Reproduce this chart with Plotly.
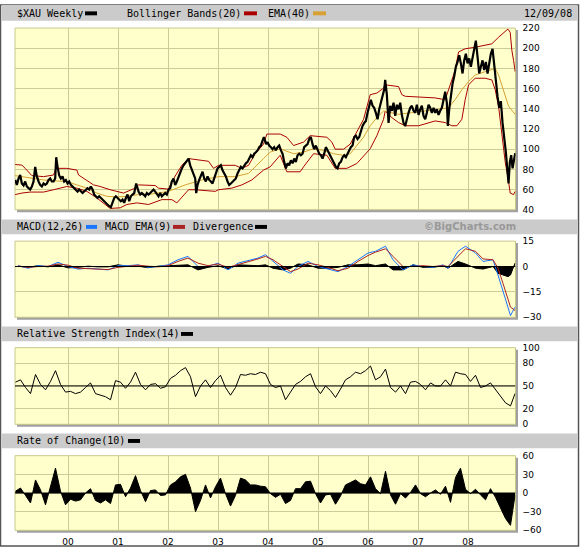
import plotly.graph_objects as go

W, H = 581, 553

# ---------------- data ----------------
price_year = [1998.944,1998.977,1999.011,1999.044,1999.077,1999.111,1999.144,1999.177,1999.211,1999.244,
 1999.277,1999.311,1999.344,1999.377,1999.411,1999.444,1999.477,1999.511,1999.544,1999.577,1999.611,1999.644,
 1999.677,1999.711,1999.744,1999.764,1999.791,1999.824,1999.857,1999.891,1999.924,1999.957,1999.991,2000.024,
 2000.057,2000.091,2000.124,2000.157,2000.191,2000.224,2000.257,2000.291,2000.324,2000.357,2000.391,2000.424,
 2000.457,2000.491,2000.524,2000.557,2000.591,2000.624,2000.657,2000.691,2000.724,2000.757,2000.791,2000.824,
 2000.857,2000.891,2000.924,2000.957,2000.991,2001.017,2001.057,2001.091,2001.124,2001.157,2001.191,2001.224,
 2001.257,2001.291,2001.324,2001.364,2001.377,2001.411,2001.444,2001.477,2001.511,2001.544,2001.577,2001.611,
 2001.644,2001.677,2001.711,2001.744,2001.777,2001.811,2001.844,2001.877,2001.911,2001.944,2001.977,2002.011,
 2002.044,2002.077,2002.111,2002.144,2002.177,2002.211,2002.244,2002.277,2002.311,2002.344,2002.377,2002.411,
 2002.444,2002.477,2002.511,2002.544,2002.564,2002.591,2002.624,2002.657,2002.691,2002.724,2002.757,2002.791,
 2002.824,2002.857,2002.891,2002.924,2002.957,2002.991,2003.024,2003.057,2003.091,2003.124,2003.157,2003.191,
 2003.224,2003.257,2003.291,2003.324,2003.357,2003.391,2003.424,2003.457,2003.491,2003.524,2003.557,2003.591,
 2003.624,2003.657,2003.691,2003.724,2003.757,2003.791,2003.824,2003.857,2003.891,2003.917,2003.931,2003.964,
 2003.991,2004.024,2004.057,2004.091,2004.124,2004.157,2004.191,2004.224,2004.257,2004.291,2004.324,2004.357,
 2004.391,2004.424,2004.457,2004.491,2004.524,2004.557,2004.591,2004.624,2004.657,2004.691,2004.724,2004.757,
 2004.791,2004.824,2004.857,2004.891,2004.924,2004.957,2004.991,2005.024,2005.057,2005.091,2005.124,2005.157,
 2005.191,2005.224,2005.257,2005.291,2005.324,2005.357,2005.391,2005.424,2005.457,2005.491,2005.524,2005.557,
 2005.591,2005.624,2005.657,2005.691,2005.724,2005.757,2005.791,2005.824,2005.857,2005.891,2005.924,2005.957,
 2005.991,2006.024,2006.057,2006.091,2006.124,2006.157,2006.191,2006.224,2006.257,2006.291,2006.324,2006.344,
 2006.377,2006.411,2006.444,2006.477,2006.511,2006.544,2006.577,2006.611,2006.644,2006.677,2006.711,2006.744,
 2006.777,2006.811,2006.844,2006.877,2006.911,2006.944,2006.977,2007.011,2007.044,2007.077,2007.111,2007.144,
 2007.177,2007.211,2007.244,2007.277,2007.311,2007.344,2007.377,2007.411,2007.444,2007.477,2007.511,2007.544,
 2007.577,2007.597,2007.624,2007.657,2007.691,2007.724,2007.757,2007.791,2007.824,2007.857,2007.891,2007.924,
 2007.957,2007.991,2008.024,2008.057,2008.091,2008.124,2008.157,2008.191,2008.224,2008.257,2008.291,2008.324,
 2008.357,2008.391,2008.424,2008.457,2008.491,2008.524,2008.557,2008.591,2008.624,2008.657,2008.691,2008.724,
 2008.757,2008.791,2008.811,2008.837,2008.864,2008.891,2008.917,2008.944]
price_close = [69.5,64.6,71,74.4,66,64,68,63,61.4,60,
 63,68,82.5,73,68,64.6,63,66,64.6,66,69.5,71,
 68,68,71,92,82.5,74,71,73,68,69.5,66,68,
 64.6,63,61.4,59.8,58,60,58,56.5,58,60,61.4,60,
 63,60,55,53.3,51.6,53.3,51.6,50,48.4,46.8,45,43.5,
 42.5,46.8,51.6,53.3,51.6,50,48.4,50,46.8,51.6,55,48.4,
 53.3,55,56.5,66,63,58,55,56.5,55,53.3,56.5,55,
 56.5,58,60,58,55,53.3,56.5,53.3,55,56.5,55,60,
 61.4,68,71,64.6,68,73,77.6,81,84,86,89,90.7,
 84,79,74.4,71,56.5,64.6,69.5,74.4,77.6,71,68,73,
 69.5,68,66,71,76,81,82.5,84,79,76,73,68,
 64.6,66,68,69.5,71,76,79,82.5,81,84,86,87.4,
 90.7,94,92,95.5,97,98.8,102,103.6,108.5,112,110,105,
 107,103.6,102,100,102,99,102,103.6,99,95.5,87.4,81,
 86,84,89,86,90.7,87.4,94,95.5,94,95.5,102,103.6,
 105,110,112,105,100,103.6,100,95.5,94,90.7,95.5,102,
 99,95.5,92,89,86,82.5,81,86,87.4,92,94,92,
 95.5,99,102,103.6,112,113.4,110,112,118,123,126,128,
 136,144,149,143,141,136,129.6,139.5,146,152,159,168.6,
 154,126,143,138,146,133,144,139.5,146,134,126,123,
 131,136,141,143,138,136,144,134,139.5,143,133,129.6,
 136,144,141,136,141,136,139.5,134,138,141,149,157,
 146,123,139.5,154,165,172,181.6,186.5,193,185,175,188,
 194.6,185,190,181.6,191.4,198,207.6,191.4,175,181.6,188,178.4,
 186.5,175,185,194.6,199.5,181.6,168.6,152,141,147.6,126,113.4,
 97,77.6,66,87.4,94,81,90.7,96]

bb_up_year = [1998.944,1999.077,1999.144,1999.277,1999.511,1999.711,1999.757,1999.977,2000.177,2000.211,
 2000.511,2000.644,2000.844,2001.111,2001.344,2001.411,2001.744,2001.811,2002.011,2002.077,2002.277,2002.411,
 2002.811,2002.911,2003.011,2003.344,2003.477,2003.611,2003.744,2003.911,2003.977,2004.244,2004.377,2004.511,
 2004.711,2004.844,2005.177,2005.277,2005.344,2005.511,2005.644,2005.777,2005.911,2006.044,2006.177,2006.311,
 2006.344,2006.611,2006.677,2006.744,2007.011,2007.344,2007.544,2007.611,2007.744,2007.811,2007.944,2008.144,
 2008.344,2008.477,2008.611,2008.744,2008.797,2008.844,2008.877,2008.911,2008.944]
bb_up = [84.8,84.2,81,73.8,72.8,74.4,81,81,79.3,74.4,
 64.6,63,59.8,56.5,61.4,64.6,64,61.4,60.4,68,84,90.7,
 88,81,84,84,81,84,95.5,105,115,115,111.8,103.6,
 107,113.4,111.8,107,100,100,105,116.6,129.6,154,155.6,160.5,
 163.8,162,154,152.4,151.8,150.8,149,159,178.4,196.3,199.5,201,
 202.8,204.4,210.9,217.4,219,215.8,197.9,188,176.8]

bb_lo_year = [1998.944,1999.077,1999.244,1999.511,1999.711,1999.844,1999.977,2000.177,2000.377,2000.577,
 2000.777,2000.844,2001.044,2001.177,2001.377,2001.611,2001.877,2002.077,2002.177,2002.411,2002.544,2002.944,
 2003.011,2003.277,2003.477,2003.677,2003.911,2004.044,2004.244,2004.344,2004.377,2004.644,2004.711,2004.911,
 2005.177,2005.344,2005.577,2005.777,2006.044,2006.177,2006.311,2006.344,2006.477,2006.611,2006.744,2007.011,
 2007.344,2007.544,2007.677,2007.777,2007.877,2007.944,2008.011,2008.144,2008.344,2008.477,2008.544,2008.611,
 2008.677,2008.744,2008.811,2008.844,2008.911,2008.944]
bb_lo = [55,56.5,57.5,57.5,59.8,61.4,63,61.4,58.2,51.7,
 43.5,41.3,41.9,45.2,46.8,45.2,50,50,46.8,59.8,59.8,58.2,
 59.8,61.4,64.6,69.5,79.3,82.5,94,81,77.6,77.6,82.5,95.5,
 94,81,81,85.8,100.4,113.4,129.6,137.8,131.3,126.4,123.2,123.2,
 128,126.4,123.2,123.2,129.6,149,163.8,170.3,170.3,168.6,158.9,142.6,
 116.6,87.4,68,56.5,55,58.2]

ema_year = [1998.944,1999.244,1999.511,1999.777,1999.977,2000.177,2000.377,2000.577,2000.777,2000.977,
 2001.177,2001.411,2001.677,2002.011,2002.344,2002.677,2003.011,2003.344,2003.611,2003.911,2004.044,2004.244,
 2004.511,2004.711,2004.911,2005.111,2005.311,2005.511,2005.644,2005.777,2005.911,2006.044,2006.177,2006.311,
 2006.611,2006.877,2007.144,2007.411,2007.611,2007.744,2007.877,2008.011,2008.144,2008.344,2008.544,2008.611,
 2008.711,2008.811,2008.944]
ema40 = [73.8,71.2,69.5,68.5,67.9,64.6,61.4,56.5,53.3,52.6,
 53.3,55,55.6,58.2,64.6,69.5,72.8,72.8,76,90.7,97.1,100.4,
 95.5,97.1,100.4,98.8,95.5,93.9,95.5,103.6,111.8,123.2,131.3,137.8,
 134.5,136.2,137.8,139.4,141,149.2,158.9,167,173.5,176.8,180,173.5,
 158.9,142.6,134.5]

macd_year = [1999.0,1999.2,1999.4,1999.6,1999.8,2000.0,2000.2,2000.4,2000.6,2000.8,
 2001.0,2001.2,2001.4,2001.6,2001.8,2002.0,2002.2,2002.4,2002.6,2002.8,2003.0,2003.2,2003.4,2003.6,2003.8,
 2003.95,2004.1,2004.3,2004.45,2004.6,2004.8,2005.0,2005.2,2005.4,2005.6,2005.8,2006.0,2006.15,2006.35,2006.5,
 2006.7,2006.9,2007.1,2007.3,2007.5,2007.6,2007.8,2007.95,2008.15,2008.3,2008.5,2008.6,2008.7,2008.8,2008.85,2008.94]
macd = [0.5,-1,0.5,0,2.5,0,-1.5,-1,-1.5,-2,
 0.5,0.5,1,-0.5,0,1,4,6,0,0,2,-2,2,3.5,5,
 7,3,-2,-4,0,3,0,-1.5,-3,0,4,8,9,12,4,
 -2,1,0,-0.5,1,-1,9,12,8,3,4,-5,-15,-25,-29,-24]
macd_sig = [0.3,-0.5,0,0.2,1.5,0.8,-1,-1.2,-1.3,-1.8,
 -0.5,0.3,0.8,0.2,-0.2,0.5,3,5,2,0.5,1.5,-0.5,1,2.8,4.5,
 6,4,0,-3,-1.5,2,1,-0.5,-2.5,-1,3,6.5,8.5,10.5,6,
 0,0,0.5,0,0.5,0,6,10.5,9,4.5,4,-1,-10,-19,-24,-26]

osc_year = [1998.95,1999.05,1999.15,1999.25,1999.35,1999.45,1999.55,1999.65,1999.75,1999.85,1999.95,
 2000.05,2000.15,2000.25,2000.35,2000.45,2000.55,2000.65,2000.75,2000.85,2000.95,
 2001.05,2001.15,2001.25,2001.35,2001.45,2001.55,2001.65,2001.75,2001.85,2001.95,
 2002.05,2002.15,2002.25,2002.35,2002.45,2002.55,2002.65,2002.75,2002.85,2002.95,
 2003.05,2003.15,2003.25,2003.35,2003.45,2003.55,2003.65,2003.75,2003.85,2003.95,
 2004.05,2004.15,2004.25,2004.35,2004.45,2004.55,2004.65,2004.75,2004.85,2004.95,
 2005.05,2005.15,2005.25,2005.35,2005.45,2005.55,2005.65,2005.75,2005.85,2005.95,
 2006.05,2006.15,2006.25,2006.35,2006.45,2006.55,2006.65,2006.75,2006.85,2006.95,
 2007.05,2007.15,2007.25,2007.35,2007.45,2007.55,2007.65,2007.75,2007.85,2007.95,
 2008.05,2008.15,2008.25,2008.35,2008.45,2008.55,2008.65,2008.75,2008.85,2008.94]
rsi = [55,58,48,40,65,52,45,56,70,52,42,
 43,40,42,48,54,40,38,36,32,57,
 55,47,55,68,52,45,52,53,47,49,
 60,64,70,74,62,36,50,58,48,57,
 64,48,38,48,65,64,66,65,68,66,
 52,48,50,32,42,52,56,62,66,49,
 40,50,44,35,46,58,62,68,66,70,
 76,58,62,72,48,42,50,40,55,56,
 52,45,54,50,50,58,50,68,66,65,
 56,64,48,50,54,45,36,28,24,40]
roc = [3,8,-4,-16,21,5,-19,9,40,3,-19,
 -10,-13,-11,0,7,-12,-16,-11,-17,13,
 14,-6,8,28,4,-14,4,5,-4,-3,
 13,18,26,30,8,-30,-12,13,-8,10,
 24,-1,-21,-4,24,21,13,13,11,10,
 -1,-7,-2,-17,-12,7,7,18,19,-1,
 -16,-3,-2,-18,-5,13,17,21,15,13,
 26,7,-1,35,-3,-18,-1,-8,1,13,
 -1,-6,0,5,-2,11,-15,25,40,6,
 -1,6,-3,-11,7,-7,-24,-41,-52,-4]

tick_years = [2000,2001,2002,2003,2004,2005,2006,2007,2008]
tick_text = ["00","01","02","03","04","05","06","07","08"]

# ---------------- layout helpers ----------------
XL, XR = 15, 515.5
panels = {  # pixel top, bottom
    "price": (23.5, 208.5),
    "macd": (240.5, 318),
    "rsi": (349, 427),
    "roc": (459, 535),
}
def xd(px): return px / W
def yd(py): return 1 - py / H

GRID = "#cccc99"
BG = "#ffffcc"
FONT_AX = dict(family="DejaVu Sans, Verdana", size=9, color="#000")
FONT_HD = dict(family="DejaVu Sans Mono, monospace", size=10, color="#000")

fig = go.Figure()

# price panel
fig.add_trace(go.Scatter(x=bb_up_year, y=bb_up, mode="lines", line=dict(color="#aa0000", width=1), xaxis="x", yaxis="y"))
fig.add_trace(go.Scatter(x=bb_lo_year, y=bb_lo, mode="lines", line=dict(color="#aa0000", width=1), xaxis="x", yaxis="y"))
fig.add_trace(go.Scatter(x=ema_year, y=ema40, mode="lines", line=dict(color="#d6a032", width=1), xaxis="x", yaxis="y"))
fig.add_trace(go.Scatter(x=price_year, y=price_close, mode="lines", line=dict(color="#000", width=2.2), xaxis="x", yaxis="y"))

# MACD
fig.add_trace(go.Scatter(x=macd_year, y=[m - s for m, s in zip(macd, macd_sig)], mode="lines", fill="tozeroy",
                         fillcolor="#000", line=dict(color="#000", width=1), xaxis="x2", yaxis="y2"))
fig.add_trace(go.Scatter(x=macd_year, y=macd, mode="lines", line=dict(color="#1a75ff", width=1), xaxis="x2", yaxis="y2"))
fig.add_trace(go.Scatter(x=macd_year, y=macd_sig, mode="lines", line=dict(color="#aa2222", width=1), xaxis="x2", yaxis="y2"))

# RSI
fig.add_trace(go.Scatter(x=osc_year, y=rsi, mode="lines", line=dict(color="#000", width=1), xaxis="x3", yaxis="y3"))

# ROC
fig.add_trace(go.Scatter(x=osc_year, y=roc, mode="lines", fill="tozeroy", fillcolor="#000",
                         line=dict(color="#000", width=1), xaxis="x4", yaxis="y4"))

xrange = [1998.94, 2008.95]
common_x = dict(range=xrange, tickvals=tick_years, ticktext=tick_text, showgrid=True, gridcolor=GRID,
                gridwidth=1, zeroline=False, showline=False, ticks="", fixedrange=True)
lay = dict(width=W, height=H, margin=dict(l=0, r=0, t=0, b=0), paper_bgcolor="white",
           plot_bgcolor="rgba(0,0,0,0)", showlegend=False, font=FONT_AX)

names = ["price", "macd", "rsi", "roc"]
yspecs = [
    dict(range=[40, 220], tickvals=[40,60,80,100,120,140,160,180,200,220]),
    dict(range=[-30, 15], tickvals=[-30,-15,0,15]),
    dict(range=[0, 100], tickvals=[0,20,50,80,100]),
    dict(range=[-60, 60], tickvals=[-60,-30,0,30,60]),
]
for i, (nm, ys) in enumerate(zip(names, yspecs)):
    sfx = "" if i == 0 else str(i + 1)
    top, bot = panels[nm]
    xa = dict(common_x, domain=[xd(XL), xd(XR)], anchor="y" + sfx, showticklabels=(nm == "roc"),
              tickfont=FONT_AX, ticklabelstandoff=5)
    if i > 0:
        xa["matches"] = "x"
    ya = dict(ys, domain=[yd(bot), yd(top)], anchor="x" + sfx, side="right", showgrid=True, gridcolor=GRID,
              zeroline=False, showline=False, ticks="", tickfont=FONT_AX, fixedrange=True, ticklabelstandoff=6)
    lay["xaxis" + sfx] = xa
    lay["yaxis" + sfx] = ya
fig.update_layout(**lay)

shapes = []
# outer frame
shapes.append(dict(type="rect", xref="paper", yref="paper", x0=xd(0.5), x1=xd(578.5), y0=yd(551), y1=yd(0),
                   line=dict(color="#555", width=1.5), fillcolor="rgba(0,0,0,0)", layer="below"))
# header bars
for (t, b) in [(0, 16), (218.5, 233.5), (327.5, 342.5), (436.5, 451.5)]:
    shapes.append(dict(type="rect", xref="paper", yref="paper", x0=xd(1.5), x1=xd(577.5), y0=yd(b), y1=yd(t),
                       line=dict(width=0), fillcolor="#cbcbcb", layer="below"))
# panel shadows + backgrounds
for nm in names:
    top, bot = panels[nm]
    shapes.append(dict(type="rect", xref="paper", yref="paper", x0=xd(XL + 2), x1=xd(XR + 2.5), y0=yd(bot + 2.5),
                       y1=yd(top + 2), line=dict(width=0), fillcolor="#a0a0a0", layer="below"))
    shapes.append(dict(type="rect", xref="paper", yref="paper", x0=xd(XL), x1=xd(XR), y0=yd(bot), y1=yd(top),
                       line=dict(color="#c8c88c", width=1), fillcolor=BG, layer="below"))
# RSI 50 line
shapes.append(dict(type="line", xref="x3", yref="y3", x0=xrange[0], x1=xrange[1], y0=50, y1=50,
                   line=dict(color="#000", width=1), layer="above"))
# zero lines
shapes.append(dict(type="line", xref="x2", yref="y2", x0=xrange[0], x1=xrange[1], y0=0, y1=0,
                   line=dict(color="#000", width=1), layer="above"))
shapes.append(dict(type="line", xref="x4", yref="y4", x0=xrange[0], x1=xrange[1], y0=0, y1=0,
                   line=dict(color="#000", width=1), layer="above"))

def swatch(x0, x1, yc, color):
    shapes.append(dict(type="rect", xref="paper", yref="paper", x0=xd(x0), x1=xd(x1), y0=yd(yc + 2), y1=yd(yc - 2),
                       line=dict(width=0), fillcolor=color, layer="above"))

annots = []
def text(x, y, s, anchor="left", font=FONT_HD):
    annots.append(dict(xref="paper", yref="paper", x=xd(x), y=yd(y), text=s, showarrow=False, xanchor=anchor,
                       yanchor="middle", font=font))

text(15, 8.5, "$XAU Weekly")
swatch(85, 97, 8.5, "#000")
text(125, 8.5, "Bollinger Bands(20)")
swatch(244, 257, 8.5, "#aa0000")
text(266, 8.5, "EMA(40)")
swatch(313, 326, 8.5, "#d6a032")
text(574, 8.5, "12/09/08", anchor="right")

text(15, 226, "MACD(12,26)")
swatch(86, 97, 226, "#1a75ff")
text(103, 226, "MACD EMA(9)")
swatch(173, 185, 226, "#aa2222")
text(191, 226, "Divergence")
swatch(255, 267, 226, "#000")
text(518, 226, "<b>©BigCharts.com</b>", anchor="right",
     font=dict(family="DejaVu Sans, Verdana", size=10, color="#999999"))

text(15, 335, "Relative Strength Index(14)")
swatch(181, 193, 335, "#000")

text(15, 444, "Rate of Change(10)")
swatch(128, 140, 444, "#000")

fig.update_layout(shapes=shapes, annotations=annots)
fig.write_html("out.html", config={"displayModeBar": False},
               post_script="document.body.style.margin='0';document.body.style.overflow='hidden';")
